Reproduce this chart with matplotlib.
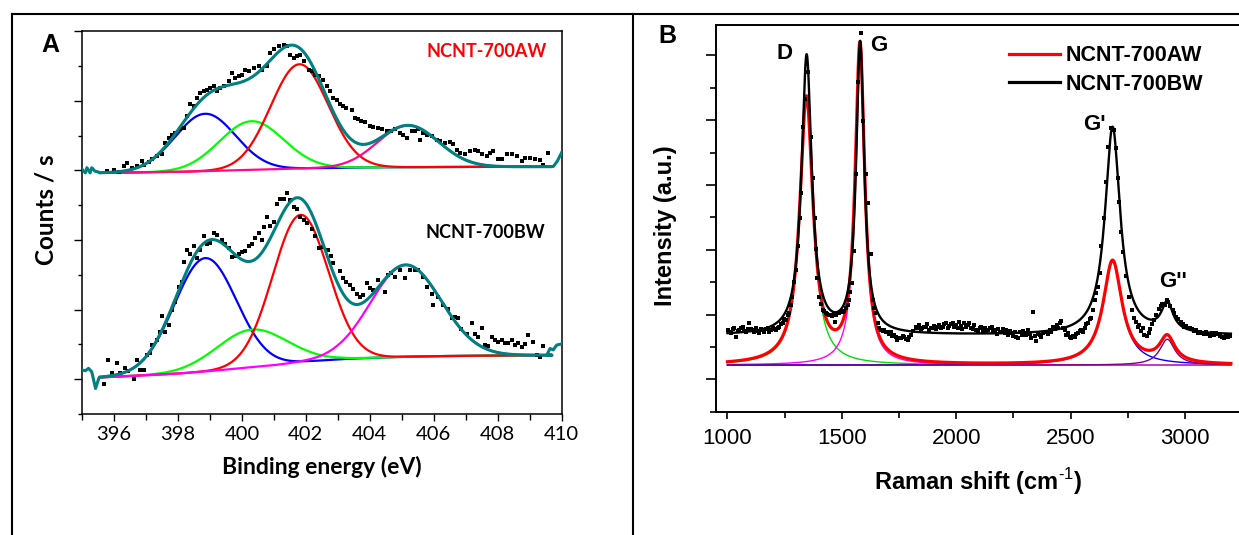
import numpy as np
import matplotlib
matplotlib.use("Agg")
import matplotlib.pyplot as plt
from matplotlib.lines import Line2D
from matplotlib.ticker import MultipleLocator, NullFormatter

plt.rcParams['mathtext.fontset'] = 'custom'
plt.rcParams['mathtext.rm'] = 'Liberation Sans'
plt.rcParams['mathtext.bf'] = 'Liberation Sans:bold'

# ---------------- Panel A data (XPS N1s) ----------------
xps_labels = ["NCNT-700AW", "NCNT-700BW"]
comp_colors_aw = ["#0000ff", "#00ff00", "#ff0000", "#ff0a8c"]
comp_colors_bw = ["#0000ff", "#00ff00", "#ff0000", "#ff00ff"]

aw_centers = [398.85, 400.30, 401.80, 405.20]
aw_heights = [1.65, 1.40, 3.00, 1.20]
aw_sigmas = [0.95, 1.00, 0.90, 0.95]
aw_base_x = [395.6, 398.0, 400.0, 402.0, 404.0, 406.0, 409.7]
aw_base_y = [6.93, 6.96, 7.01, 7.06, 7.09, 7.10, 7.11]
aw_edge_left_x = [395.0, 395.1, 395.15, 395.25, 395.3, 395.4, 395.5]
aw_edge_left_y = [7.03, 6.93, 7.08, 6.93, 7.08, 6.98, 6.96]
aw_edge_right_x = [409.75, 409.87, 410.0]
aw_edge_right_y = [7.12, 7.27, 7.51]

aw_pts_x = [395.78, 395.99, 396.14, 396.30, 396.40, 396.56, 396.72, 396.87, 396.95, 397.08,
            397.19, 397.34, 397.50, 397.60, 397.71, 397.81, 397.92, 398.07, 398.18, 398.28,
            398.39, 398.49, 398.59, 398.70, 398.80, 398.91, 399.01, 399.12, 399.22, 399.32,
            399.43, 399.58, 399.69, 399.79, 399.90, 400.00, 400.11, 400.21, 400.37, 400.52,
            400.63, 400.78, 400.89, 400.99, 401.15, 401.31, 401.41, 401.51, 401.62, 401.72,
            401.83, 401.93, 402.09, 402.19, 402.30, 402.40,
            402.54, 402.65, 402.75, 402.86, 402.96, 403.07, 403.17, 403.27, 403.43, 403.54,
            403.64, 403.74, 403.85, 404.00, 404.11, 404.27, 404.37, 404.53, 404.68, 404.79,
            404.94, 405.05, 405.15, 405.31, 405.41, 405.50, 405.57, 405.67, 405.78, 405.94,
            406.09, 406.20, 406.35, 406.51, 406.61, 406.72, 406.82, 406.98, 407.13, 407.29,
            407.40, 407.50, 407.66, 407.76, 407.87, 408.02, 408.13, 408.28, 408.44, 408.60,
            408.75, 408.86, 409.01, 409.17, 409.33, 409.43, 409.59]
aw_pts_y = [6.98, 7.01, 6.95, 7.12, 7.22, 7.08, 7.12, 7.27, 7.17, 7.24,
            7.32, 7.41, 7.46, 7.79, 7.94, 8.03, 8.08, 8.18, 8.23, 8.56,
            8.90, 8.85, 9.09, 9.23, 9.28, 9.31, 9.38, 9.42, 9.28, 9.38,
            9.42, 9.57, 9.79, 9.66, 9.73, 9.76, 9.90, 9.85, 9.95, 10.00,
            9.90, 10.00, 10.38, 10.48, 10.59, 10.62, 10.59, 10.33, 10.24, 10.29,
            10.33, 10.14, 9.90, 9.85, 9.76, 9.71,
            9.61, 9.42, 9.28, 9.09, 9.04, 8.90, 8.85, 8.80, 8.75, 8.51,
            8.47, 8.42, 8.39, 8.29, 8.25, 8.23, 8.18, 8.13, 8.13, 8.18,
            8.08, 8.03, 7.94, 8.13, 8.13, 8.18, 7.89, 8.08, 8.03, 7.99,
            7.89, 7.84, 7.79, 7.81, 7.75, 7.60, 7.51, 7.46, 7.55, 7.60,
            7.55, 7.46, 7.41, 7.51, 7.55, 7.33, 7.32, 7.46, 7.46, 7.41,
            7.27, 7.36, 7.36, 7.32, 7.30, 7.17, 7.51]

bw_centers = [398.85, 400.31, 401.83, 405.13]
bw_heights = [3.26, 1.08, 4.24, 2.64]
bw_sigmas = [0.97, 1.10, 0.87, 1.10]
bw_base_x = [395.6, 397.0, 398.0, 399.0, 400.0, 401.0, 402.0, 403.0, 404.0, 405.0, 406.0, 409.3]
bw_base_y = [1.05, 1.11, 1.16, 1.23, 1.32, 1.40, 1.50, 1.57, 1.61, 1.64, 1.66, 1.69]
bw_edge_left_x = [395.0, 395.1, 395.2, 395.3, 395.42, 395.52]
bw_edge_left_y = [1.26, 1.24, 1.31, 1.21, 0.73, 1.02]
bw_edge_right_x = [409.54, 409.64, 409.74, 409.85, 410.0]
bw_edge_right_y = [1.69, 1.88, 1.84, 1.98, 2.01]

bw_pts_x = [395.67, 395.81, 395.93, 396.09, 396.19, 396.35, 396.45, 396.61, 396.71, 396.82,
            396.92, 397.03, 397.13, 397.18, 397.34, 397.45, 397.50, 397.60, 397.71, 397.81,
            397.92, 398.02, 398.12, 398.18, 398.28, 398.39, 398.49, 398.59, 398.70, 398.80,
            398.91, 399.01, 399.12, 399.22, 399.38, 399.48, 399.58, 399.69, 399.79, 399.90,
            400.00, 400.11, 400.21, 400.31, 400.42, 400.52, 400.63, 400.68, 400.78, 400.89,
            400.99, 401.10, 401.20, 401.31, 401.41, 401.51, 401.62, 401.72, 401.83, 401.93,
            402.04, 402.19, 402.30, 402.40,
            402.54, 402.70, 402.80, 402.86, 403.07, 403.17, 403.27, 403.38, 403.48, 403.59,
            403.69, 403.80, 403.90, 404.00, 404.11, 404.27, 404.47, 404.58, 404.68, 404.79,
            404.94, 405.10, 405.26, 405.41, 405.52, 405.67, 405.78, 405.94, 405.99, 406.14,
            406.30, 406.46, 406.56, 406.67, 406.77, 406.87, 407.03, 407.19, 407.29, 407.40,
            407.50, 407.60, 407.71, 407.81, 407.92, 408.02, 408.13, 408.23, 408.33, 408.44,
            408.54, 408.65, 408.75, 408.86, 408.96, 409.12, 409.22, 409.33, 409.43]
bw_pts_y = [0.86, 1.55, 1.17, 1.45, 1.17, 1.31, 1.24, 0.99, 1.55, 1.26,
            1.26, 1.69, 1.74, 1.98, 2.12, 2.36, 2.81, 2.36, 2.55, 2.99,
            3.22, 3.66, 3.80, 4.37, 4.71, 4.61, 4.82, 4.47, 4.71, 5.11,
            4.88, 4.92, 5.19, 5.14, 5.00, 4.90, 4.76, 4.50, 4.54, 4.59,
            4.66, 4.69, 4.82, 4.90, 5.07, 5.19, 5.00, 5.38, 5.67, 5.40,
            5.52, 6.05, 6.17, 6.18, 6.36, 6.15, 5.95, 5.88, 5.67, 5.59,
            5.50, 5.33, 5.11, 4.76,
            4.80, 4.71, 4.54, 4.33, 4.11, 3.90, 3.80, 3.70, 3.58, 3.46,
            3.35, 3.42, 3.75, 3.61, 3.56, 3.85, 3.51, 3.99, 4.04, 3.94,
            4.14, 3.92, 4.14, 4.15, 4.14, 3.94, 3.66, 3.46, 3.13, 3.37,
            3.13, 3.03, 2.77, 2.79, 2.77, 2.43, 2.31, 2.62, 2.30, 2.22,
            2.46, 1.98, 1.95, 2.20, 2.12, 2.08, 2.12, 2.05, 2.03, 2.12,
            1.98, 2.03, 1.93, 2.01, 2.27, 2.08, 1.69, 1.64, 1.95]

xps_ticks = [396, 398, 400, 402, 404, 406, 408, 410]

# ---------------- Panel B data (Raman) ----------------
raman_labels = ["NCNT-700AW", "NCNT-700BW"]
peak_names = ["D", "G", "G'", "G''"]
aw_r_centers = [1345, 1579, 2683, 2922]
aw_r_heights = [8.20, 9.80, 3.21, 0.80]
aw_r_widths = [35, 25, 50, 40]
aw_r_base = 1.44
comp_colors_r = ["#00e000", "#ff00ff", "#0000ff", "#800080"]

bw_r_centers = [1346, 1580, 2683, 2922]
bw_r_heights = [8.60, 8.97, 6.42, 0.89]
bw_r_widths = [27, 21, 40, 30]
bw_r_base = 2.36

raman_pts_x = [1001, 1009, 1016, 1023, 1030, 1037, 1044, 1052, 1059, 1066, 1074, 1081, 1088, 1096,
               1103, 1110, 1118, 1125, 1132, 1139, 1147, 1154, 1161, 1168, 1176, 1183, 1190, 1197,
               1205, 1212, 1220, 1227, 1234, 1241, 1249, 1256, 1263, 1270, 1276, 1283, 1290, 1298,
               1307, 1315, 1321, 1328, 1338, 1345, 1353, 1364, 1376, 1381, 1386, 1393, 1402, 1410,
               1416, 1423, 1430, 1437, 1445, 1452, 1459, 1466, 1471, 1474, 1482, 1489, 1496, 1503,
               1511, 1518, 1525, 1531, 1537, 1543, 1552, 1560, 1570, 1582, 1591, 1604, 1614, 1626,
               1634, 1641, 1646, 1656, 1663, 1670, 1678, 1685, 1692, 1700, 1707, 1714, 1721, 1729,
               1736, 1743, 1751, 1758, 1765, 1772, 1780, 1787, 1794, 1802, 1812, 1823, 1830, 1838,
               1845, 1852, 1860, 1867, 1874, 1882, 1889, 1896, 1904, 1911, 1918, 1925, 1933, 1940,
               1947, 1954, 1962, 1969, 1976, 1984, 1991, 1998, 2006, 2013, 2020, 2027, 2034, 2042,
               2049, 2056, 2063, 2071, 2078, 2085, 2096, 2103, 2110, 2118, 2125, 2132, 2139, 2147,
               2154, 2161, 2168, 2176, 2183, 2190, 2197, 2205, 2212, 2219, 2226, 2234, 2241, 2248,
               2256, 2263, 2270, 2277, 2285, 2292, 2299, 2306, 2314, 2321, 2328, 2336, 2343, 2350,
               2358, 2365, 2372, 2379, 2386, 2394, 2401, 2408, 2416, 2423, 2430, 2438, 2445, 2452,
               2459, 2466, 2474, 2481, 2489, 2496, 2503, 2510, 2518, 2525, 2532, 2540, 2547, 2554,
               2561, 2568, 2576, 2583, 2590, 2598, 2605, 2612, 2620, 2626, 2634, 2646, 2655, 2665,
               2676, 2690, 2700, 2707, 2712, 2721, 2729, 2741, 2755, 2767, 2776, 2785, 2793, 2800,
               2808, 2815, 2822, 2832, 2840, 2848, 2856, 2864, 2874, 2884, 2893, 2901, 2910, 2919,
               2927, 2936, 2945, 2953, 2962, 2971, 2980, 2990, 2997, 3006, 3014, 3023, 3032, 3040,
               3049, 3058, 3066, 3075, 3084, 3092, 3101, 3110, 3118, 3127, 3135, 3144, 3152, 3161,
               3170, 3178, 3187, 3196]
raman_pts_y = [2.52, 2.45, 2.42, 2.55, 2.58, 2.32, 2.50, 2.52, 2.60, 2.63, 2.48, 2.47, 2.56, 2.73,
               2.55, 2.52, 2.45, 2.58, 2.50, 2.42, 2.55, 2.52, 2.47, 2.54, 2.60, 2.47, 2.52, 2.58,
               2.55, 2.52, 2.60, 2.63, 2.70, 2.73, 2.85, 2.83, 3.00, 3.04, 3.30, 3.55, 4.02, 4.39,
               5.13, 5.97, 6.76, 8.79, 9.65, 10.49, 10.49, 8.49, 7.23, 5.97, 5.02, 4.13, 3.55, 3.34,
               3.14, 3.10, 3.04, 3.02, 2.99, 3.00, 2.96, 3.02, 2.76, 2.99, 3.05, 3.04, 3.07, 3.09,
               3.12, 3.19, 3.30, 3.44, 3.70, 3.97, 4.97, 7.34, 10.18, 11.68, 8.97, 7.34, 6.44, 4.86,
               3.45, 3.20, 3.04, 2.73, 2.60, 2.52, 2.50, 2.52, 2.45, 2.47, 2.40, 2.47, 2.35, 2.37,
               2.30, 2.22, 2.28, 2.27, 2.35, 2.32, 2.25, 2.22, 2.30, 2.37, 2.50, 2.63, 2.60, 2.68,
               2.55, 2.58, 2.62, 2.63, 2.70, 2.52, 2.60, 2.58, 2.65, 2.54, 2.62, 2.68, 2.60, 2.63,
               2.70, 2.73, 2.58, 2.65, 2.72, 2.73, 2.62, 2.68, 2.60, 2.78, 2.65, 2.55, 2.75, 2.62,
               2.68, 2.73, 2.60, 2.55, 2.68, 2.52, 2.47, 2.58, 2.63, 2.50, 2.58, 2.45, 2.52, 2.60,
               2.63, 2.48, 2.52, 2.40, 2.54, 2.45, 2.47, 2.55, 2.42, 2.52, 2.38, 2.50, 2.42, 2.35,
               2.47, 2.30, 2.27, 2.45, 2.37, 2.50, 2.42, 2.38, 2.52, 2.40, 2.28, 3.09, 2.35, 2.17,
               2.40, 2.37, 2.30, 2.42, 2.47, 2.47, 2.40, 2.52, 2.45, 2.63, 2.55, 2.68, 2.58, 2.73,
               2.81, 2.60, 2.52, 2.38, 2.42, 2.30, 2.27, 2.35, 2.32, 2.40, 2.42, 2.50, 2.52, 2.45,
               2.58, 2.70, 2.73, 2.85, 2.88, 3.14, 3.45, 3.66, 3.86, 4.28, 5.13, 5.97, 7.10, 8.18,
               8.75, 8.70, 8.13, 7.23, 6.49, 5.55, 4.92, 4.18, 3.55, 3.13, 2.90, 2.78, 2.62, 2.68,
               2.50, 2.60, 2.38, 2.34, 2.42, 2.55, 2.70, 2.83, 2.98, 3.18, 3.25, 3.34, 3.30, 3.44,
               3.38, 3.28, 3.13, 3.05, 2.92, 2.85, 2.76, 2.70, 2.62, 2.65, 2.58, 2.60, 2.55, 2.48,
               2.52, 2.44, 2.47, 2.42, 2.39, 2.45, 2.40, 2.35, 2.44, 2.38, 2.42, 2.39, 2.35, 2.32,
               2.28, 2.35, 2.30, 2.34]

raman_ticks = [1000, 1500, 2000, 2500, 3000]


def gauss(x, c, h, s):
    return h * np.exp(-(x - c) ** 2 / (2.0 * s ** 2))


def lorentz(x, c, h, g):
    return h / (1.0 + ((x - c) / g) ** 2)


fig = plt.figure(figsize=(12.39, 5.35), dpi=100)

# frame lines
for (xs, ys) in [([0.0096, 1.0], [0.9746, 0.9746]),
                 ([0.0096, 0.0096], [0.0, 0.9746]),
                 ([0.5106, 0.5106], [0.0, 0.9746])]:
    fig.add_artist(Line2D(xs, ys, transform=fig.transFigure, color='black', lw=1.5))

# ================= Panel A =================
fA = 'Lato'
axA = fig.add_axes([0.0663, 0.2264, 0.3869, 0.7149])
xx = np.linspace(395.55, 409.7, 1500)

for centers, heights, sigmas, bx, by, cols, ex_l, ey_l, ex_r, ey_r, px, py in [
        (aw_centers, aw_heights, aw_sigmas, aw_base_x, aw_base_y, comp_colors_aw,
         aw_edge_left_x, aw_edge_left_y, aw_edge_right_x, aw_edge_right_y, aw_pts_x, aw_pts_y),
        (bw_centers, bw_heights, bw_sigmas, bw_base_x, bw_base_y, comp_colors_bw,
         bw_edge_left_x, bw_edge_left_y, bw_edge_right_x, bw_edge_right_y, bw_pts_x, bw_pts_y)]:
    base = np.interp(xx, bx, by)
    total = base.copy()
    for c, h, s, col in zip(centers, heights, sigmas, cols):
        comp = gauss(xx, c, h, s)
        total += comp
        axA.plot(xx, base + comp, color=col, lw=1.6, zorder=2)
    axA.plot(px, py, 's', color='black', ms=3.0, mew=0, zorder=3)
    ex = np.concatenate([ex_l, xx, ex_r])
    ey = np.concatenate([ey_l, total, ey_r])
    axA.plot(ex, ey, color='#008080', lw=2.2, zorder=4)

axA.set_xlim(395, 410)
axA.set_ylim(0, 11)
axA.xaxis.set_minor_locator(MultipleLocator(1))
axA.set_xticks(xps_ticks)
axA.set_xticklabels([str(t) for t in xps_ticks], fontfamily=fA, fontsize=14.5)
axA.yaxis.set_major_locator(MultipleLocator(2, offset=1))
axA.yaxis.set_minor_locator(MultipleLocator(1))
axA.yaxis.set_major_formatter(NullFormatter())
axA.tick_params(axis='x', which='major', direction='out', length=5, width=1, pad=4, top=False)
axA.tick_params(axis='x', which='minor', direction='out', length=4, width=1, top=False)
axA.tick_params(axis='y', which='major', direction='out', length=6, width=1)
axA.tick_params(axis='y', which='minor', direction='out', length=3, width=1)
for sp in axA.spines.values():
    sp.set_linewidth(1.1)
axA.set_xlabel('Binding energy (eV)', fontfamily=fA, fontweight='bold', fontsize=16.5)
axA.xaxis.set_label_coords(0.499, -0.139)
axA.xaxis.label.set_va('center')
axA.set_ylabel('Counts / s', fontfamily=fA, fontweight='bold', fontsize=17.5)
axA.yaxis.set_label_coords(-0.0755, 0.533)
axA.yaxis.label.set_va('center')
axA.text(409.53, 10.43, xps_labels[0], color='red', fontfamily=fA, fontweight='bold',
         fontsize=13, ha='right', va='center')
axA.text(409.48, 5.22, xps_labels[1], color='black', fontfamily=fA, fontweight='bold',
         fontsize=13, ha='right', va='center')
fig.text(0.0404, 0.9168, 'A', fontfamily='Liberation Sans', fontweight='bold', fontsize=18,
         ha='center', va='center')

# ================= Panel B =================
fB = 'Liberation Sans'
axB = fig.add_axes([0.5779, 0.2303, 0.4270, 0.7237])
rx = np.linspace(1000, 3200, 3000)

axB.plot(rx, np.full_like(rx, aw_r_base), color='#ff40ff', lw=1.0, zorder=1)
for c, h, g, col in zip(aw_r_centers, aw_r_heights, aw_r_widths, comp_colors_r):
    axB.plot(rx, aw_r_base + lorentz(rx, c, h, g), color=col, lw=1.0, zorder=2)
aw_total = aw_r_base + sum(lorentz(rx, c, h, g) for c, h, g in zip(aw_r_centers, aw_r_heights, aw_r_widths))
bw_total = bw_r_base + sum(lorentz(rx, c, h, g) for c, h, g in zip(bw_r_centers, bw_r_heights, bw_r_widths))
axB.plot(rx, aw_total, color='#ff0000', lw=2.3, zorder=3, label=raman_labels[0])
axB.plot(rx, bw_total, color='black', lw=1.7, zorder=4, label=raman_labels[1])
axB.plot(raman_pts_x, raman_pts_y, 's', color='black', ms=3.0, mew=0, zorder=5)

axB.set_xlim(950, 3262)
axB.set_ylim(0, 11.95)
axB.set_xticks(raman_ticks)
axB.set_xticklabels([str(t) for t in raman_ticks], fontfamily=fB, fontsize=16)
axB.xaxis.set_minor_locator(MultipleLocator(250))
axB.yaxis.set_major_locator(MultipleLocator(2, offset=1))
axB.yaxis.set_minor_locator(MultipleLocator(1))
axB.yaxis.set_major_formatter(NullFormatter())
axB.tick_params(axis='x', which='major', direction='out', length=5, width=1.2, pad=7)
axB.tick_params(axis='x', which='minor', direction='out', length=4, width=1.2)
axB.tick_params(axis='y', which='major', direction='out', length=7, width=1.2)
axB.tick_params(axis='y', which='minor', direction='out', length=4, width=1.2)
axB.spines['right'].set_visible(False)
for sp in ['left', 'bottom', 'top']:
    axB.spines[sp].set_linewidth(1.4)
axB.set_xlabel(r'Raman shift (cm$^{\text{-1}}$)', fontfamily=fB, fontweight='bold', fontsize=17)
axB.xaxis.set_label_coords(0.496, -0.179)
axB.xaxis.label.set_va('center')
axB.set_ylabel('Intensity (a.u.)', fontfamily=fB, fontweight='bold', fontsize=17)
axB.yaxis.set_label_coords(-0.0962, 0.48)
axB.yaxis.label.set_va('center')

peak_label_pos = [(1249, 11.07), (1662, 11.29), (2605, 8.86), (2946, 4.02)]
for name, (lx, ly) in zip(peak_names, peak_label_pos):
    axB.text(lx, ly, name, fontfamily=fB, fontweight='bold', fontsize=16, ha='center', va='center')

leg = axB.legend(loc='upper left', bbox_to_anchor=(0.553, 0.947), frameon=False,
                 prop={'family': fB, 'weight': 'bold', 'size': 15.5},
                 handlelength=2.37, handletextpad=0.28, labelspacing=0.35,
                 borderaxespad=0, borderpad=0)
for line in leg.get_lines():
    line.set_linewidth(2.3)

fig.text(0.5383, 0.9336, 'B', fontfamily=fB, fontweight='bold', fontsize=18,
         ha='center', va='center')

fig.savefig('out.png', dpi=100)
